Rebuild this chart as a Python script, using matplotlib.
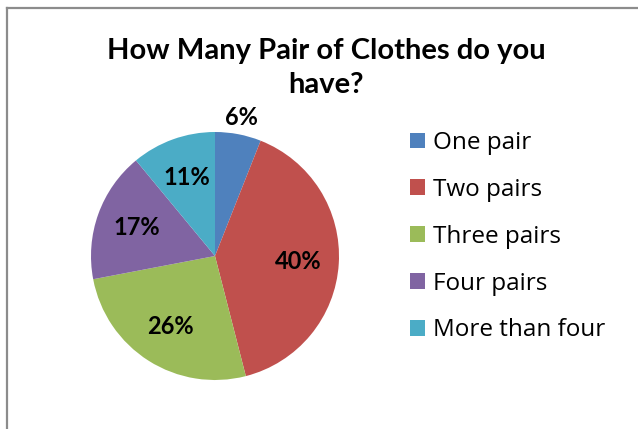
import numpy as np
import matplotlib
matplotlib.use("Agg")
import matplotlib.pyplot as plt
from matplotlib.lines import Line2D
from matplotlib.patches import Patch

categories = ["One pair", "Two pairs", "Three pairs", "Four pairs", "More than four"]
shares = [6, 40, 26, 17, 11]
colors = ["#4F81BD", "#C0504D", "#9BBB59", "#8064A2", "#4BACC6"]
title = "How Many Pair of Clothes do you\nhave?"

W, H = 638, 429
fig = plt.figure(figsize=(W / 100, H / 100), dpi=100)
plt.rcParams["font.family"] = ["Lato", "DejaVu Sans"]

# pie axes: centre (215, 256) px, radius 124 px
cx, cy, r = 215, 256, 124
ax = fig.add_axes([(cx - r) / W, (H - cy - r) / H, 2 * r / W, 2 * r / H])
wedges, texts, autotexts = ax.pie(
    shares, colors=colors, startangle=90, counterclock=False,
    autopct=lambda p: f"{p:.0f}%", pctdistance=0.67,
    wedgeprops=dict(linewidth=0),
    textprops=dict(fontsize=17, fontweight="bold", color="black"),
)
ax.set_xlim(-1, 1)
ax.set_ylim(-1, 1)
ax.set_aspect("equal")

# the thin first slice keeps its label just outside the rim
w0 = wedges[0]
mid = np.deg2rad((w0.theta1 + w0.theta2) / 2)
autotexts[0].set_position((1.14 * np.cos(mid), 1.14 * np.sin(mid)))

fig.text(326 / W, 1 - 68 / H, title, ha="center", va="center",
         fontsize=21, fontweight="bold", linespacing=1.4)

handles = [Patch(facecolor=c, edgecolor="none") for c in colors]
fig.legend(handles, categories, loc="upper left",
           bbox_to_anchor=(410 / W, 1 - 131 / H), frameon=False,
           prop=dict(family=["Open Sans", "DejaVu Sans"], size=17.5),
           handlelength=0.62, handleheight=0.62, handletextpad=0.33,
           labelspacing=0.94, borderpad=0, borderaxespad=0)

# chart-area border (left and top edges visible)
lc = "#8c8c8c"
fig.add_artist(Line2D([6.5 / W, 6.5 / W], [0, 1 - 7.5 / H], color=lc, lw=1.6,
                      transform=fig.transFigure))
fig.add_artist(Line2D([6.5 / W, 1], [1 - 7.5 / H, 1 - 7.5 / H], color=lc, lw=1.6,
                      transform=fig.transFigure))

fig.savefig("out.png", dpi=100)
